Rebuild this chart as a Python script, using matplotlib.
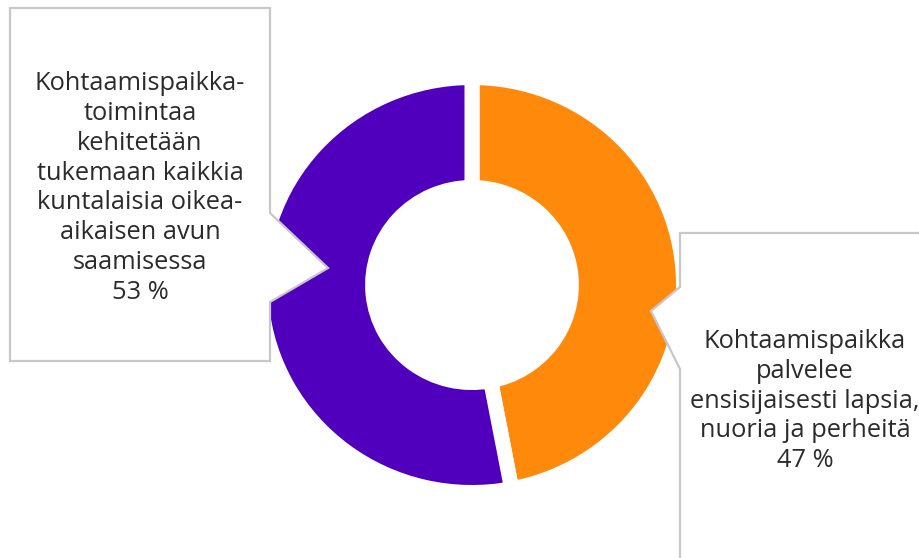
import matplotlib
matplotlib.use("Agg")
import matplotlib.pyplot as plt
from matplotlib.patches import Polygon

labels = [
    "Kohtaamispaikka\npalvelee\nensisijaisesti lapsia,\nnuoria ja perheitä",
    "Kohtaamispaikka-\ntoimintaa\nkehitetään\ntukemaan kaikkia\nkuntalaisia oikea-\naikaisen avun\nsaamisessa",
]
values = [47, 53]
colors = ["#FF890B", "#5000BD"]

W, H = 920, 558
DPI = 100
fig = plt.figure(figsize=(W / DPI, H / DPI), dpi=DPI)
fig.patch.set_facecolor("white")

# donut axes (pixel layout)
cx, cy = 472, 285
sx, sy = 211.5, 207.5
ax = fig.add_axes([(cx - sx) / W, (H - cy - sy) / H, 2 * sx / W, 2 * sy / H])
ax.pie(values, colors=colors, startangle=90, counterclock=False,
       radius=1.0, wedgeprops=dict(width=0.53, edgecolor="white", linewidth=10.8))
ax.set_xlim(-1, 1)
ax.set_ylim(-1, 1)
ax.set_aspect("auto")
ax.axis("off")

# overlay axes for callouts in pixel coords
ov = fig.add_axes([0, 0, 1, 1])
ov.set_xlim(0, W)
ov.set_ylim(H, 0)
ov.axis("off")
ov.patch.set_alpha(0)

edge = "#C8C8C8"
left_box = [(10, 8), (270, 8), (270, 213), (328, 268), (270, 302), (270, 361), (10, 361)]
right_box = [(680, 233), (940, 233), (940, 580), (680, 580), (680, 369), (651, 311), (680, 287)]
for pts in (left_box, right_box):
    ov.add_patch(Polygon(pts, closed=True, facecolor="white", edgecolor=edge,
                         linewidth=1.6, joinstyle="miter"))

font = ["Open Sans", "DejaVu Sans"]
txtc = "#2B2B2B"
ov.text(140, 188, f"{labels[1]}\n{values[1]} %", ha="center", va="center",
        multialignment="center", fontsize=18.3, family=font, color=txtc, linespacing=1.26)
ov.text(805, 401, f"{labels[0]}\n{values[0]} %", ha="center", va="center",
        multialignment="center", fontsize=18.3, family=font, color=txtc, linespacing=1.26)

fig.savefig("out.png", dpi=DPI, facecolor="white")
